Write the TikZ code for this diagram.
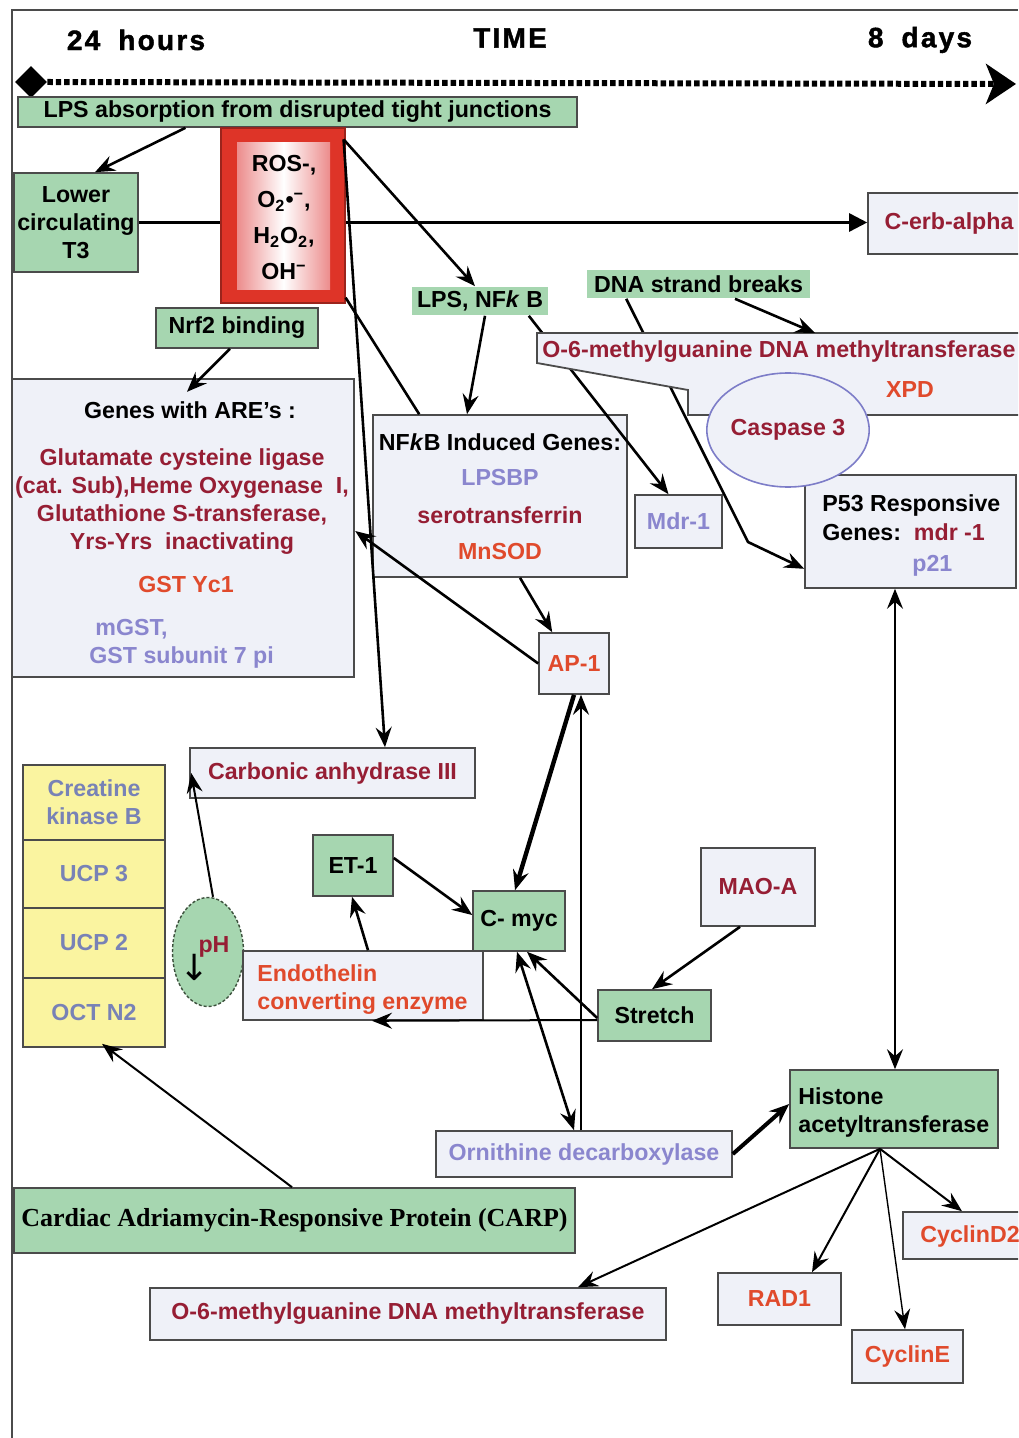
\documentclass[tikz,border=0pt]{standalone}
\usepackage{fontspec}
\setmainfont{Liberation Sans}
\newfontfamily\carpfont{Liberation Serif}
\newfontfamily\dejavu{DejaVu Sans}
\usetikzlibrary{arrows.meta,shapes.geometric}
\definecolor{gfill}{RGB}{166,214,176}
\definecolor{bfill}{RGB}{239,241,248}
\definecolor{edge}{RGB}{75,75,75}
\definecolor{dred}{RGB}{150,30,52}
\definecolor{ored}{RGB}{224,74,44}
\definecolor{lav}{RGB}{138,134,206}
\definecolor{ylw}{RGB}{250,244,160}
\definecolor{yblue}{RGB}{120,130,182}
\definecolor{rosred}{RGB}{222,52,40}
\definecolor{rospink}{RGB}{236,140,140}
\definecolor{casp}{RGB}{125,125,200}
\definecolor{phedge}{RGB}{60,80,60}
\tikzset{
  lab/.style={font=\fontsize{11.6pt}{14pt}\selectfont\bfseries},
  gbox/.style={rectangle, fill=gfill, draw=edge, line width=0.8pt, inner sep=0pt, align=center, lab},
  wbox/.style={rectangle, fill=bfill, draw=edge, line width=0.8pt, inner sep=0pt, align=center, lab},
  ybox/.style={rectangle, fill=ylw, draw=edge, line width=0.8pt, inner sep=0pt, align=center, lab, text=yblue, minimum width=71pt},
  txt/.style={inner sep=0pt, align=center, lab},
  ttl/.style={inner sep=0pt, font=\fontsize{14pt}{16pt}\selectfont\bfseries\addfontfeature{LetterSpace=8,FakeBold=1.5}},
  tip/.tip={Stealth[length=10pt,width=8pt,inset=3.5pt]},
  arr/.style={draw=black, line width=1.3pt, -tip},
  darr/.style={draw=black, line width=1.3pt, tip-tip},
  plain/.style={draw=black, line width=1.3pt},
}
\begin{document}
\begin{tikzpicture}[x=0.5pt,y=-0.5pt]
\useasboundingbox (0,0) rectangle (1018,1438);
\clip (0,0) rectangle (1018,1438);
\fill[white] (0,0) rectangle (1018,1438);
% frame
\draw[edge, line width=1pt] (12,1438) -- (12,10) -- (1018,10);
% time header
\node[ttl] (t24) at (136,40) {24\hspace{9pt}hours};
\node[ttl] (ttime) at (510,38) {TIME};
\node[ttl] (t8) at (920,40) {8\hspace{9pt}days};
\node[diamond, fill=black, minimum width=16pt, minimum height=16pt, inner sep=0pt] (tlstart) at (31,82) {};
\coordinate (tlend) at (1016,84);
\draw[line width=3pt, dash pattern=on 2.7pt off 1.5pt, -{Stealth[length=15pt,width=20pt,inset=4pt]}] (tlstart.east) -- (tlend);

% line behind ROS
\node[gbox, minimum width=62pt, minimum height=49.5pt] (t3) at (76,222.5) {Lower\\circulating\\T3};
\node[wbox, text=dred, minimum width=81pt, minimum height=30.5pt] (cerb) at (949,223.5) {C-erb-alpha};
\draw[line width=1.3pt, -{Triangle[length=9pt,width=9pt]}] (t3.east) -- (t3.east -| cerb.west);

% boxes
\node[gbox, minimum width=279.5pt, minimum height=15pt] (lps) at (297.5,112) {LPS absorption from disrupted tight junctions};
\node[rectangle, fill=rosred, draw=rosred!70!black, line width=0.6pt, minimum width=62pt, minimum height=87.5pt, inner sep=0pt] (ros) at (283,215.5) {};
\shade[left color=rospink, right color=rospink, middle color=white] (237,143) rectangle (330,290);
\node[txt, font=\fontsize{11.6pt}{18pt}\selectfont\bfseries] (rostxt) at (284,218) {ROS-,\\O\textsubscript{2}•\textsuperscript{−},\\H\textsubscript{2}O\textsubscript{2},\\OH\textsuperscript{−}};
\node[gbox, minimum width=81pt, minimum height=20pt] (nrf2) at (237,328) {Nrf2 binding};

\node[wbox, line width=1.2pt, minimum width=171pt, minimum height=149pt] (are) at (183,528) {};
\node[txt] (arehd) at (190,410) {Genes with ARE’s :};
\node[txt, text=dred] (arered) at (182,502) {Glutamate cysteine ligase\\(cat. Sub),Heme Oxygenase~~I,\\Glutathione S-transferase,\\Yrs-Yrs~~inactivating};
\node[txt, text=ored] (gstyc) at (186,585) {GST Yc1};
\node[txt, text=lav, anchor=base west] (mgst) at (95,635) {mGST,};
\node[txt, text=lav, anchor=base west] (gstsub) at (89,663) {GST subunit 7 pi};

\node[gbox, draw=none, minimum width=68pt, minimum height=14pt] (lpsnfkb) at (480,301) {LPS, NF\textit{k} B};
\node[gbox, draw=none, minimum width=111.5pt, minimum height=14pt] (dna) at (698.5,284) {DNA strand breaks};

\node[wbox, minimum width=127pt, minimum height=81pt] (nfkbg) at (500,496) {};
\node[txt] (nfkbhd) at (500,442) {NF\textit{k}B Induced Genes:};
\node[txt, text=lav] (lpsbp) at (500,478) {LPSBP};
\node[txt, text=dred] (serot) at (500,515) {serotransferrin};
\node[txt, text=ored] (mnsod) at (500,552) {MnSOD};

\node[wbox, text=lav, minimum width=43.5pt, minimum height=26.5pt] (mdr1) at (678.5,521.5) {Mdr-1};
\node[wbox, minimum width=105.5pt, minimum height=56.5pt] (p53) at (910.5,531.5) {};
\node[txt, anchor=base west] (p53a) at (822,511) {P53 Responsive};
\node[txt, anchor=base west] (p53b) at (822,540) {Genes:~~\textcolor{dred}{mdr -1}};
\node[txt, anchor=base west, text=lav] (p21) at (912,571) {p21};

% lines under the O-6 polygon
\coordinate (bend) at (748,542);
\draw[arr] ([xshift=-10pt]lpsnfkb.south east) -- ([xshift=-5pt]mdr1.north);
\draw[arr] ([xshift=20pt]dna.south west) -- (bend) -- ([yshift=10pt]p53.south west);
\draw[edge, line width=0.9pt, fill=bfill] (537,333) -- (1030,333) -- (1030,415) -- (688,415) -- (688,390) -- (537,363) -- cycle;
\node[txt, text=dred, anchor=west] (o6t) at (542,352) {O-6-methylguanine DNA methyltransferase};
\node[txt, text=ored] (xpd) at (910,390) {XPD};
\node[ellipse, draw=casp, line width=0.8pt, fill=bfill, text=dred, lab, minimum width=70pt, minimum height=57pt, inner sep=0pt] (casp) at (788,430) {Caspase 3};
\coordinate (o6arr) at (815,333);
\draw[arr] ([xshift=18.25pt]dna.south) -- (o6arr);

\node[wbox, text=ored, minimum width=35pt, minimum height=30.5pt] (ap1) at (574,663.5) {AP-1};
\node[wbox, text=dred, minimum width=142.5pt, minimum height=25pt] (carb) at (332.5,773) {Carbonic anhydrase III};

\node[ybox, minimum height=37.5pt] (ck) at (94,802.5) {Creatine\\kinase B};
\node[ybox, minimum height=34pt] (ucp3) at (94,874) {UCP 3};
\node[ybox, minimum height=35pt] (ucp2) at (94,943) {UCP 2};
\node[ybox, minimum height=34.5pt] (oct) at (94,1012.5) {OCT N2};

\node[ellipse, fill=gfill, draw=phedge, line width=0.7pt, dash pattern=on 1.5pt off 1pt, minimum width=35.5pt, minimum height=54.5pt, inner sep=0pt] (ph) at (208,952) {};
\node[txt, text=dred] (phtxt) at (214,947) {pH};
\node[inner sep=0pt, font=\dejavu\fontsize{18pt}{18pt}\selectfont] (pharr) at (195,967) {↓};

\node[gbox, minimum width=40pt, minimum height=30.5pt] (et1) at (353,865.5) {ET-1};
\node[gbox, minimum width=46pt, minimum height=30pt] (cmyc) at (519,921) {C- myc};
\node[wbox, text=dred, minimum width=57pt, minimum height=39pt] (maoa) at (758,887) {MAO-A};
\node[wbox, minimum width=120pt, minimum height=34.5pt] (ece) at (363,985.5) {};
\node[txt, text=ored, anchor=base west] (ece1) at (257,981) {Endothelin};
\node[txt, text=ored, anchor=base west] (ece2) at (257,1009) {converting enzyme};
\node[gbox, minimum width=56.5pt, minimum height=25.5pt] (stretch) at (654.5,1015.5) {Stretch};
\node[wbox, text=lav, minimum width=148pt, minimum height=23pt] (orn) at (584,1154) {Ornithine decarboxylase};
\node[gbox, minimum width=104pt, minimum height=39pt] (hist) at (894,1109) {};
\node[txt, anchor=base west] (hist1) at (798,1104) {Histone};
\node[txt, anchor=base west] (hist2) at (798,1132) {acetyltransferase};
\node[gbox, font=\carpfont\fontsize{13pt}{15pt}\selectfont\bfseries, minimum width=280.5pt, minimum height=32.5pt] (carp) at (294.5,1220.5) {Cardiac Adriamycin-Responsive Protein (CARP)};
\node[wbox, text=dred, minimum width=258pt, minimum height=26pt] (o6bot) at (408,1314) {O-6-methylguanine DNA methyltransferase};
\node[wbox, text=ored, minimum width=61.5pt, minimum height=26pt] (rad1) at (779.5,1299) {RAD1};
\node[wbox, minimum width=63.5pt, minimum height=23.5pt] (cycd2) at (966.5,1235.5) {};
\node[txt, text=ored, anchor=west] (cycd2t) at (920,1236) {CyclinD2};
\node[wbox, text=ored, minimum width=55.5pt, minimum height=26.5pt] (cyce) at (907.5,1356.5) {CyclinE};

% connectors
\draw[arr] ([xshift=-56pt]lps.south) -- ([xshift=9.5pt]t3.north);
\draw[arr] ([xshift=-1pt,yshift=-6pt]ros.north east) -- ([xshift=-2.5pt]lpsnfkb.north);
\draw[plain] ([yshift=3pt]ros.south east) -- ([xshift=23.5pt]nfkbg.north west);
\draw[arr] ([xshift=-1pt,yshift=-6pt]ros.north east) -- ([xshift=26.25pt]carb.north);
\draw[arr] ([xshift=-3.5pt]nrf2.south) -- ([xshift=2pt,yshift=-7pt]are.north);
\draw[arr] ([xshift=2.5pt]lpsnfkb.south) -- ([xshift=-16.5pt]nfkbg.north);
\draw[arr] ([xshift=10pt]nfkbg.south) -- ([xshift=7pt]ap1.north west);
\draw[arr] (ap1.west) -- ([yshift=-1.5pt]are.east);
\draw[arr, line width=2.2pt] (ap1.south) -- ([xshift=-2pt]cmyc.north);
\draw[arr] ([xshift=-1.5pt]orn.north) -- ([xshift=3.5pt]ap1.south);
\draw[darr] ([xshift=-1pt]cmyc.south) -- ([xshift=-5pt]orn.north);
\draw[arr] ([yshift=-1.25pt]stretch.west) -- ([xshift=4pt]cmyc.south);
\draw[arr, line width=1pt] ([yshift=-2.25pt]stretch.west) -- ([xshift=4.5pt]ece.south);
\draw[arr] ([xshift=-9pt]maoa.south) -- ([xshift=-1.25pt]stretch.north);
\draw[arr] ([xshift=2.5pt]ece.north) -- ([xshift=-0.5pt]et1.south);
\draw[arr] ([yshift=3.75pt]et1.east) -- ([yshift=3pt]cmyc.west);
\draw[arr, line width=1pt] ([xshift=2.5pt]ph.north) -- ([xshift=1pt]carb.west);
\draw[arr, line width=1pt] ([xshift=-1.25pt]carp.north) -- ([xshift=4pt,yshift=2pt]oct.south);
\draw[arr, line width=2pt] (orn.east) -- ([yshift=2.5pt]hist.west);
\draw[darr, line width=1pt] ([xshift=-7.75pt]p53.south) -- ([xshift=0.5pt]hist.north);
\draw[arr, line width=1pt] ([xshift=-7pt]hist.south) -- ([xshift=85pt]o6bot.north);
\draw[arr, line width=1pt] ([xshift=-7pt]hist.south) -- ([xshift=16.25pt]rad1.north);
\draw[arr, line width=0.7pt] ([xshift=-7pt]hist.south) -- ([xshift=-1.25pt]cyce.north);
\draw[arr, line width=1pt] ([xshift=-7pt]hist.south) -- ([xshift=-2.25pt]cycd2.north);
\end{tikzpicture}
\end{document}
